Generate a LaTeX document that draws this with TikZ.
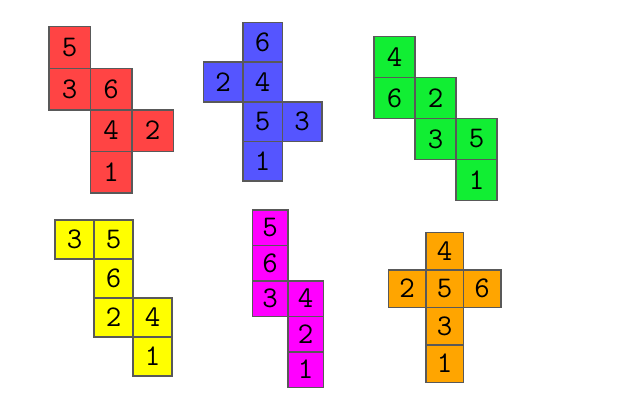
\documentclass[tikz,border=0pt]{standalone}
\usepackage{tikz}
\definecolor{netred}{RGB}{255,68,68}
\definecolor{netblue}{RGB}{85,85,255}
\definecolor{netgreen}{RGB}{17,238,51}
\definecolor{netyellow}{RGB}{255,255,0}
\definecolor{netmagenta}{RGB}{255,0,255}
\definecolor{netorange}{RGB}{255,165,0}

\begin{document}
\begin{tikzpicture}[x=1pt, y=1pt,
    face/.style={draw=black!65, line width=1.5pt, inner sep=0pt, font=\fontsize{30}{34}\ttfamily},
    redface/.style={face, fill=netred, minimum size=41.5pt},
    blueface/.style={face, fill=netblue, minimum size=39.5pt},
    greenface/.style={face, fill=netgreen, minimum size=41pt},
    yellowface/.style={face, fill=netyellow, minimum size=39pt},
    magentaface/.style={face, fill=netmagenta, minimum size=35.5pt},
    orangeface/.style={face, fill=netorange, minimum size=37.5pt}]
    \useasboundingbox (0,0) rectangle (640,400);

    % red net
    \node[redface] (red5) at (69.5,352.5) {5};
    \node[redface] (red3) at (69.5,311) {3};
    \node[redface] (red6) at (111,311) {6};
    \node[redface] (red4) at (111,269.5) {4};
    \node[redface] (red2) at (152.5,269.5) {2};
    \node[redface] (red1) at (111,228) {1};

    % blue net
    \node[blueface] (blue6) at (262.5,357.5) {6};
    \node[blueface] (blue2) at (223,318) {2};
    \node[blueface] (blue4) at (262.5,318) {4};
    \node[blueface] (blue5) at (262.5,278.5) {5};
    \node[blueface] (blue3) at (302,278.5) {3};
    \node[blueface] (blue1) at (262.5,239) {1};

    % green net
    \node[greenface] (green4) at (394.5,343) {4};
    \node[greenface] (green6) at (394.5,302) {6};
    \node[greenface] (green2) at (435.5,302) {2};
    \node[greenface] (green3) at (435.5,261) {3};
    \node[greenface] (green5) at (476.5,261) {5};
    \node[greenface] (green1) at (476.5,220) {1};

    % yellow net
    \node[yellowface] (yellow3) at (74.5,160.5) {3};
    \node[yellowface] (yellow5) at (113.5,160.5) {5};
    \node[yellowface] (yellow6) at (113.5,121.5) {6};
    \node[yellowface] (yellow2) at (113.5,82.5) {2};
    \node[yellowface] (yellow4) at (152.5,82.5) {4};
    \node[yellowface] (yellow1) at (152.5,43.5) {1};

    % magenta net
    \node[magentaface] (magenta5) at (270,172.5) {5};
    \node[magentaface] (magenta6) at (270,137) {6};
    \node[magentaface] (magenta3) at (270,101.5) {3};
    \node[magentaface] (magenta4) at (305.5,101.5) {4};
    \node[magentaface] (magenta2) at (305.5,66) {2};
    \node[magentaface] (magenta1) at (305.5,30.5) {1};

    % orange net
    \node[orangeface] (orange4) at (444.5,149) {4};
    \node[orangeface] (orange2) at (407,111.5) {2};
    \node[orangeface] (orange5) at (444.5,111.5) {5};
    \node[orangeface] (orange6) at (482,111.5) {6};
    \node[orangeface] (orange3) at (444.5,74) {3};
    \node[orangeface] (orange1) at (444.5,36.5) {1};
\end{tikzpicture}
\end{document}
